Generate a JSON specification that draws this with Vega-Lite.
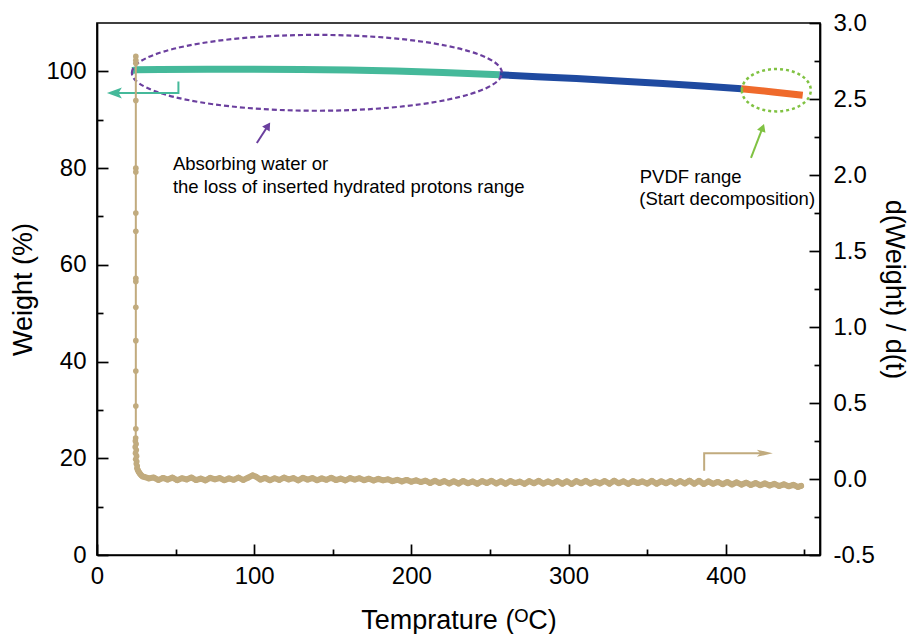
{
  "$schema": "https://vega.github.io/schema/vega-lite/v6.json",
  "width": 723,
  "height": 532,
  "autosize": {"type": "none"},
  "padding": {"left": 97, "top": 23, "right": 97, "bottom": 79},
  "background": "white",
  "config": {
    "font": "Liberation Sans",
    "view": {"stroke": "black", "strokeWidth": 1.7},
    "axis": {
      "grid": false, "domainColor": "black", "domainWidth": 1.7,
      "tickColor": "black", "tickWidth": 1.7, "labelColor": "black", "titleColor": "black",
      "labelFontSize": 24, "titleFontSize": 27, "titleFontWeight": "normal",
      "labelFont": "Liberation Sans", "titleFont": "Liberation Sans",
      "labelOverlap": false, "labelFlush": false
    }
  },
  "datasets": {
    "tg": [
      {"T": 22.5, "w": 100.15, "seg": "a"},
      {"T": 25, "w": 100.35, "seg": "a"},
      {"T": 40, "w": 100.4, "seg": "a"},
      {"T": 70, "w": 100.42, "seg": "a"},
      {"T": 100, "w": 100.42, "seg": "a"},
      {"T": 130, "w": 100.38, "seg": "a"},
      {"T": 160, "w": 100.28, "seg": "a"},
      {"T": 190, "w": 100.05, "seg": "a"},
      {"T": 220, "w": 99.75, "seg": "a"},
      {"T": 256, "w": 99.3, "seg": "a"},
      {"T": 256, "w": 99.3, "seg": "b"},
      {"T": 280, "w": 98.9, "seg": "b"},
      {"T": 305, "w": 98.5, "seg": "b"},
      {"T": 332, "w": 98.0, "seg": "b"},
      {"T": 360, "w": 97.5, "seg": "b"},
      {"T": 385, "w": 96.95, "seg": "b"},
      {"T": 410, "w": 96.4, "seg": "b"},
      {"T": 410, "w": 96.4, "seg": "c"},
      {"T": 430, "w": 95.75, "seg": "c"},
      {"T": 449, "w": 95.05, "seg": "c"}
    ],
    "dw": [
      {"T": 24.7, "d": 2.78}, {"T": 24.7, "d": 2.755}, {"T": 24.7, "d": 2.735},
      {"T": 24.7, "d": 2.49}, {"T": 24.7, "d": 2.045}, {"T": 24.7, "d": 2.02},
      {"T": 24.7, "d": 1.75}, {"T": 24.7, "d": 1.63}, {"T": 24.7, "d": 1.32},
      {"T": 24.7, "d": 1.30}, {"T": 24.7, "d": 1.13}, {"T": 24.7, "d": 0.91},
      {"T": 24.7, "d": 0.71}, {"T": 24.7, "d": 0.48}, {"T": 24.7, "d": 0.33},
      {"T": 24.6, "d": 0.27}, {"T": 24.4, "d": 0.25}, {"T": 24.9, "d": 0.23},
      {"T": 24.3, "d": 0.21}, {"T": 25.0, "d": 0.19}, {"T": 24.5, "d": 0.17},
      {"T": 25.2, "d": 0.15}, {"T": 24.6, "d": 0.13}, {"T": 25.3, "d": 0.115},
      {"T": 25.0, "d": 0.10}, {"T": 25.6, "d": 0.085}, {"T": 25.4, "d": 0.07},
      {"T": 26.0, "d": 0.058}, {"T": 26.6, "d": 0.046}, {"T": 27.3, "d": 0.035},
      {"T": 28.1, "d": 0.025}, {"T": 29.0, "d": 0.017},
      {"T": 30, "d": 0.014}, {"T": 33, "d": 0.004}, {"T": 36, "d": 0.010}, {"T": 39, "d": -0.006},
      {"T": 42, "d": 0.007}, {"T": 45, "d": -0.004}, {"T": 48, "d": 0.009}, {"T": 51, "d": -0.008},
      {"T": 54, "d": 0.005}, {"T": 57, "d": -0.003}, {"T": 60, "d": 0.010}, {"T": 63, "d": -0.007},
      {"T": 66, "d": 0.003}, {"T": 69, "d": -0.009}, {"T": 72, "d": 0.008}, {"T": 75, "d": -0.002},
      {"T": 78, "d": 0.006}, {"T": 81, "d": -0.008}, {"T": 84, "d": 0.004}, {"T": 87, "d": -0.005},
      {"T": 90, "d": 0.009}, {"T": 93, "d": -0.006}, {"T": 96, "d": 0.008}, {"T": 99, "d": 0.024},
      {"T": 101, "d": 0.016}, {"T": 104, "d": -0.004}, {"T": 107, "d": 0.007}, {"T": 110, "d": -0.008},
      {"T": 113, "d": 0.005}, {"T": 116, "d": -0.006}, {"T": 119, "d": 0.009}, {"T": 122, "d": -0.003},
      {"T": 125, "d": 0.006}, {"T": 128, "d": -0.009}, {"T": 131, "d": 0.008}, {"T": 134, "d": -0.004},
      {"T": 137, "d": 0.006}, {"T": 140, "d": -0.008}, {"T": 143, "d": 0.004}, {"T": 146, "d": -0.005},
      {"T": 149, "d": 0.008}, {"T": 152, "d": -0.007}, {"T": 155, "d": 0.003}, {"T": 158, "d": -0.009},
      {"T": 161, "d": 0.006}, {"T": 164, "d": -0.004}, {"T": 167, "d": 0.005}, {"T": 170, "d": -0.008},
      {"T": 173, "d": 0.002}, {"T": 176, "d": -0.010}, {"T": 179, "d": 0.001}, {"T": 182, "d": -0.009},
      {"T": 185, "d": -0.002}, {"T": 188, "d": -0.014}, {"T": 191, "d": -0.005}, {"T": 194, "d": -0.016},
      {"T": 197, "d": -0.006}, {"T": 200, "d": -0.018}, {"T": 203, "d": -0.009}, {"T": 206, "d": -0.020},
      {"T": 209, "d": -0.011}, {"T": 212, "d": -0.026}, {"T": 215, "d": -0.012}, {"T": 218, "d": -0.027},
      {"T": 221, "d": -0.014}, {"T": 224, "d": -0.029}, {"T": 227, "d": -0.015}, {"T": 230, "d": -0.030},
      {"T": 233, "d": -0.013}, {"T": 236, "d": -0.028}, {"T": 239, "d": -0.016}, {"T": 242, "d": -0.031},
      {"T": 245, "d": -0.014}, {"T": 248, "d": -0.027}, {"T": 251, "d": -0.012}, {"T": 254, "d": -0.029},
      {"T": 257, "d": -0.015}, {"T": 260, "d": -0.031}, {"T": 263, "d": -0.013}, {"T": 266, "d": -0.027},
      {"T": 269, "d": -0.017}, {"T": 272, "d": -0.032}, {"T": 275, "d": -0.014}, {"T": 278, "d": -0.028},
      {"T": 281, "d": -0.012}, {"T": 284, "d": -0.030}, {"T": 287, "d": -0.016}, {"T": 290, "d": -0.029},
      {"T": 293, "d": -0.013}, {"T": 296, "d": -0.031}, {"T": 299, "d": -0.015}, {"T": 302, "d": -0.033},
      {"T": 305, "d": -0.014}, {"T": 308, "d": -0.028}, {"T": 311, "d": -0.012}, {"T": 314, "d": -0.030},
      {"T": 317, "d": -0.017}, {"T": 320, "d": -0.029}, {"T": 323, "d": -0.013}, {"T": 326, "d": -0.031},
      {"T": 329, "d": -0.011}, {"T": 332, "d": -0.028}, {"T": 335, "d": -0.015}, {"T": 338, "d": -0.032},
      {"T": 341, "d": -0.014}, {"T": 344, "d": -0.027}, {"T": 347, "d": -0.016}, {"T": 350, "d": -0.030},
      {"T": 353, "d": -0.012}, {"T": 356, "d": -0.031}, {"T": 359, "d": -0.015}, {"T": 362, "d": -0.028},
      {"T": 365, "d": -0.013}, {"T": 368, "d": -0.030}, {"T": 371, "d": -0.014}, {"T": 374, "d": -0.029},
      {"T": 377, "d": -0.011}, {"T": 380, "d": -0.031}, {"T": 383, "d": -0.012}, {"T": 386, "d": -0.033},
      {"T": 389, "d": -0.016}, {"T": 392, "d": -0.031}, {"T": 395, "d": -0.019}, {"T": 398, "d": -0.034},
      {"T": 401, "d": -0.020}, {"T": 404, "d": -0.036}, {"T": 407, "d": -0.022}, {"T": 410, "d": -0.037},
      {"T": 413, "d": -0.024}, {"T": 416, "d": -0.039}, {"T": 419, "d": -0.027}, {"T": 422, "d": -0.041},
      {"T": 425, "d": -0.029}, {"T": 428, "d": -0.043}, {"T": 431, "d": -0.032}, {"T": 434, "d": -0.046},
      {"T": 437, "d": -0.035}, {"T": 440, "d": -0.048}, {"T": 443, "d": -0.038}, {"T": 446, "d": -0.052},
      {"T": 448, "d": -0.045}
    ]
  },
  "encoding": {
    "x": {
      "field": "T", "type": "quantitative",
      "scale": {"domain": [0, 460], "nice": false, "zero": false},
      "axis": {
        "values": [0, 50, 100, 150, 200, 250, 300, 350, 400, 450],
        "labelExpr": "datum.value % 100 === 0 ? datum.label : ''",
        "tickSize": {"condition": {"test": "datum.value % 100 === 0", "value": -11}, "value": -6},
        "labelPadding": 20,
        "title": "Temprature (ᴼC)",
        "titlePadding": 14
      }
    }
  },
  "layer": [
    {
      "encoding": {
        "y": {
          "field": "w", "type": "quantitative",
          "scale": {"domain": [0, 110], "nice": false, "zero": false},
          "axis": {
            "values": [0, 10, 20, 30, 40, 50, 60, 70, 80, 90, 100],
            "labelExpr": "datum.value % 20 === 0 ? datum.label : ''",
            "tickSize": {"condition": {"test": "datum.value % 20 === 0", "value": -11}, "value": -6},
            "labelPadding": 22,
            "title": "Weight (%)",
            "titlePadding": 8
          }
        }
      },
      "layer": [
        {
          "data": {"name": "tg"},
          "mark": {"type": "line", "strokeWidth": 7},
          "encoding": {
            "color": {"field": "seg", "type": "nominal", "legend": null,
              "scale": {"domain": ["a", "b", "c"], "range": ["#45b99a", "#1f4aa0", "#ef6a2b"]}}
          }
        },
        {
          "data": {"values": [{"T": 139.9, "w": 99.7}]},
          "mark": {"type": "point", "filled": false, "opacity": 1, "stroke": "#6b3f9e", "strokeWidth": 2.2,
            "strokeDash": [5, 3], "size": 136900,
            "shape": "M-1,0C-1,-0.1132,-0.5523,-0.205,0,-0.205C0.5523,-0.205,1,-0.1132,1,0C1,0.1132,0.5523,0.205,0,0.205C-0.5523,0.205,-1,0.1132,-1,0Z"}
        },
        {
          "data": {"values": [{"T": 432.2, "w": 96.1}]},
          "mark": {"type": "point", "filled": false, "opacity": 1, "stroke": "#80c242", "strokeWidth": 2.5,
            "strokeDash": [3, 3], "size": 4761,
            "shape": "M-1,0C-1,-0.3391,-0.5523,-0.614,0,-0.614C0.5523,-0.614,1,-0.3391,1,0C1,0.3391,0.5523,0.614,0,0.614C-0.5523,0.614,-1,0.3391,-1,0Z"}
        },
        {
          "data": {"values": [{"T": 101.7, "w": 85.2}, {"T": 108.8, "w": 88.76}]},
          "mark": {"type": "line", "color": "#6b3f9e", "strokeWidth": 2},
          "encoding": {}
        },
        {
          "data": {"values": [{"T": 108.8, "w": 88.76}]},
          "mark": {"type": "point", "shape": "triangle-up", "angle": 33, "size": 81, "filled": true, "opacity": 1, "color": "#6b3f9e"}
        },
        {
          "data": {"values": [{"T": 416.1, "w": 82.1}, {"T": 423.5, "w": 88.37}]},
          "mark": {"type": "line", "color": "#80c242", "strokeWidth": 2},
          "encoding": {}
        },
        {
          "data": {"values": [{"T": 423.5, "w": 88.37}]},
          "mark": {"type": "point", "shape": "triangle-up", "angle": 21, "size": 81, "filled": true, "opacity": 1, "color": "#80c242"}
        },
        {
          "data": {"values": [{"T": 51.8, "w": 97.93}, {"T": 51.8, "w": 95.53}, {"T": 12.0, "w": 95.53}]},
          "mark": {"type": "line", "color": "#45b99a", "strokeWidth": 2},
          "encoding": {"order": {"value": null}}
        },
        {
          "data": {"values": [{"T": 11.07, "w": 95.53}]},
          "mark": {"type": "point", "shape": "M-1,0L1,-0.73L0.55,0L1,0.73Z", "size": 225, "filled": true, "opacity": 1, "color": "#45b99a"}
        },
        {
          "data": {"values": [{"T": 386.3, "w": 17.44}, {"T": 386.3, "w": 21.04}, {"T": 424.0, "w": 21.04}]},
          "mark": {"type": "line", "color": "#c1ab7e", "strokeWidth": 2},
          "encoding": {"order": {"value": null}}
        },
        {
          "data": {"values": [{"T": 424.9, "w": 21.04}]},
          "mark": {"type": "point", "shape": "M1,0L-1,-0.45L-0.55,0L-1,0.45Z", "size": 256, "filled": true, "opacity": 1, "color": "#c1ab7e"}
        },
        {
          "data": {"values": [
            {"T": 48.3, "w": 79.66, "label": "Absorbing water or"},
            {"T": 48.3, "w": 74.95, "label": "the loss of inserted hydrated protons range"},
            {"T": 345.3, "w": 76.9, "label": "PVDF range"},
            {"T": 345.0, "w": 72.36, "label": "(Start decomposition)"}
          ]},
          "mark": {"type": "text", "align": "left", "baseline": "alphabetic", "fontSize": 18.5, "color": "black", "font": "Liberation Sans"},
          "encoding": {"text": {"field": "label"}}
        }
      ]
    },
    {
      "data": {"name": "dw"},
      "encoding": {
        "y": {
          "field": "d", "type": "quantitative",
          "scale": {"domain": [-0.5, 3.0], "nice": false, "zero": false},
          "axis": {
            "orient": "right",
            "values": [-0.5, -0.25, 0, 0.25, 0.5, 0.75, 1, 1.25, 1.5, 1.75, 2, 2.25, 2.5, 2.75, 3],
            "labelExpr": "abs(datum.value * 2) % 1 === 0 ? (datum.value < 0 ? '-' + format(-datum.value, '.1f') : format(datum.value, '.1f')) : ''",
            "tickSize": {"condition": {"test": "abs(datum.value * 2) % 1 === 0", "value": -11}, "value": -6},
            "labelPadding": 24,
            "title": "d(Weight) / d(t)",
            "titlePadding": 5
          }
        }
      },
      "layer": [
        {
          "mark": {"type": "line", "color": "#c1ab7e", "strokeWidth": 2},
          "encoding": {"order": {"value": null}}
        },
        {
          "transform": [{"filter": "datum.T >= 25.9"}],
          "mark": {"type": "line", "color": "#c1ab7e", "strokeWidth": 6, "strokeJoin": "round", "strokeCap": "round"},
          "encoding": {"order": {"value": null}}
        },
        {
          "mark": {"type": "point", "filled": true, "opacity": 1, "color": "#c1ab7e", "size": 32}
        }
      ]
    }
  ],
  "resolve": {"scale": {"y": "independent"}, "axis": {"y": "independent"}}
}
